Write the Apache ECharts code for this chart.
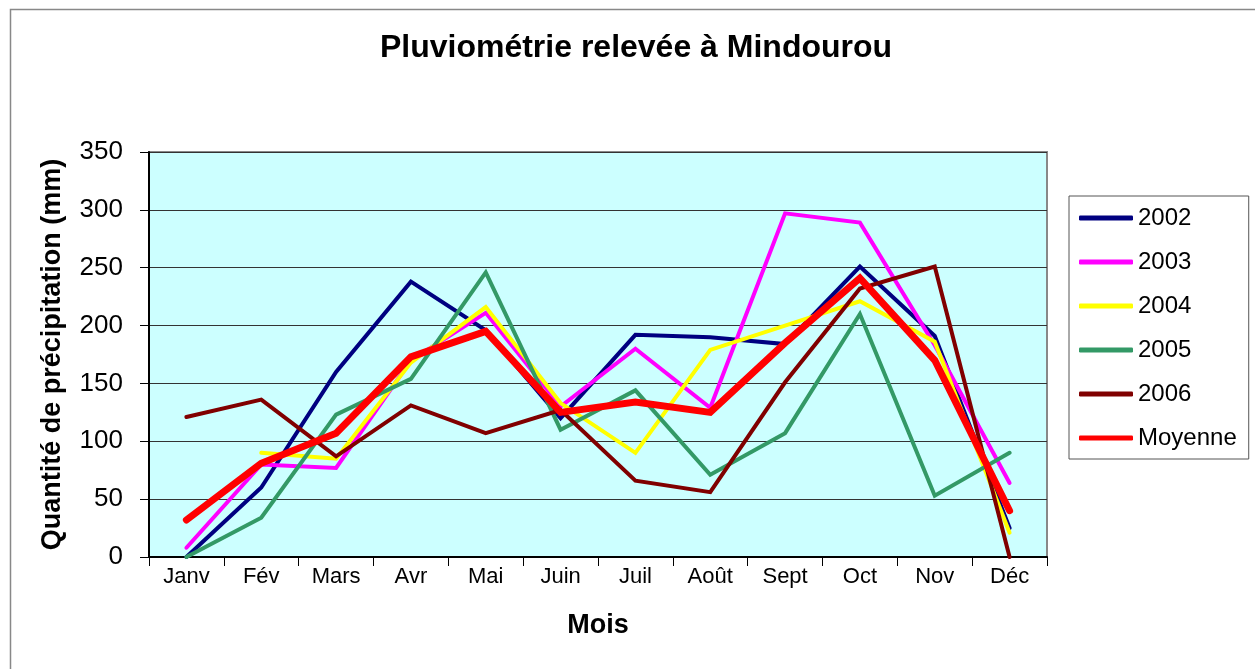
<!DOCTYPE html>
<html lang="fr">
<head>
<meta charset="UTF-8">
<title>Pluviométrie relevée à Mindourou</title>
<script src="https://cdn.jsdelivr.net/npm/echarts@6/dist/echarts.min.js"></script>
<style>
  html, body { margin: 0; padding: 0; background: #fff; }
  #chart { width: 1255px; height: 669px; }
</style>
</head>
<body>
<div id="chart"></div>
<script>
// mois
const months = ['Janv', 'Fév', 'Mars', 'Avr', 'Mai', 'Juin', 'Juil', 'Août', 'Sept', 'Oct', 'Nov', 'Déc'];

// précipitations (mm)
const y2002 = [0, 60, 160, 238, 196, 120, 192, 190, 184, 251, 191, 25];
const y2003 = [8, 80, 77, 170, 211, 130, 180, 129, 297, 289, 183, 64];
const y2004 = ['-', 90, 85, 168, 216, 133, 90, 179, 200, 221, 186, 21];
const y2005 = [0, 34, 123, 154, 246, 110, 144, 71, 107, 210, 53, 90];
const y2006 = [121, 136, 87, 131, 107, 127, 66, 56, 151, 232, 251, 0];
const moyenne = [32, 81, 107, 173, 195, 125, 134, 125, 185, 241, 170, 40];

const yTicks = [0, 50, 100, 150, 200, 250, 300, 350];

const font = 'Liberation Sans, Arial, sans-serif';

function line(name, data, color, width) {
    return {
        name: name,
        type: 'line',
        data: data,
        symbol: 'none',
        color: color,
        lineStyle: { color: color, width: width, cap: 'round', join: 'miter' },
        animation: false
    };
}

const chart = echarts.init(document.getElementById('chart'));
chart.setOption({
    animation: false,
    textStyle: { fontFamily: font },
    title: {
        text: 'Pluviométrie relevée à Mindourou',
        left: 631,
        textAlign: 'center',
        top: 27,
        textStyle: { fontSize: 32, fontWeight: 'bold', color: '#000', fontFamily: font }
    },
    graphic: [{
        type: 'rect',
        shape: { x: 10.5, y: 9.5, width: 1260, height: 700 },
        style: { fill: 'none', stroke: '#888', lineWidth: 1.5 },
        silent: true,
        z: -10
    }],
    grid: {
        left: 149, top: 152, right: 208, bottom: 112,
        show: true,
        backgroundColor: '#CCFFFF',
        borderColor: '#888',
        borderWidth: 2
    },
    legend: {
        orient: 'vertical',
        left: 1069,
        top: 196,
        padding: [10, 12, 9, 10],
        itemGap: 20,
        itemWidth: 54,
        itemHeight: 5,
        icon: 'roundRect',
        borderColor: '#555',
        borderWidth: 1,
        textStyle: { fontSize: 24, color: '#000', fontFamily: font },
        data: ['2002', '2003', '2004', '2005', '2006', 'Moyenne']
    },
    xAxis: {
        type: 'category',
        data: months,
        boundaryGap: true,
        name: 'Mois',
        nameLocation: 'middle',
        nameGap: 55,
        nameTextStyle: { fontSize: 27, fontWeight: 'bold', color: '#000', fontFamily: font },
        axisLine: { lineStyle: { color: '#000', width: 2 } },
        axisTick: { show: true, length: 9, alignWithLabel: false, lineStyle: { color: '#000', width: 1 } },
        axisLabel: { fontSize: 22, color: '#000', margin: 9, fontFamily: font },
        splitLine: { show: false }
    },
    yAxis: {
        type: 'value',
        min: yTicks[0],
        max: yTicks[yTicks.length - 1],
        interval: 50,
        name: 'Quantité de précipitation (mm)',
        nameLocation: 'middle',
        nameGap: 83,
        nameTextStyle: { fontSize: 27, fontWeight: 'bold', color: '#000', fontFamily: font },
        axisLine: { show: true, lineStyle: { color: '#000', width: 2 } },
        axisTick: { show: true, length: 9, lineStyle: { color: '#000', width: 1 } },
        axisLabel: { fontSize: 26, color: '#000', margin: 26, fontFamily: font },
        splitLine: { show: true, lineStyle: { color: '#333', width: 1 } }
    },
    series: [
        line('2002', y2002, '#000080', 4),
        line('2003', y2003, '#FF00FF', 4),
        line('2004', y2004, '#FFFF00', 4),
        line('2005', y2005, '#339966', 4),
        line('2006', y2006, '#800000', 4),
        line('Moyenne', moyenne, '#FF0000', 7)
    ]
});
</script>
</body>
</html>
